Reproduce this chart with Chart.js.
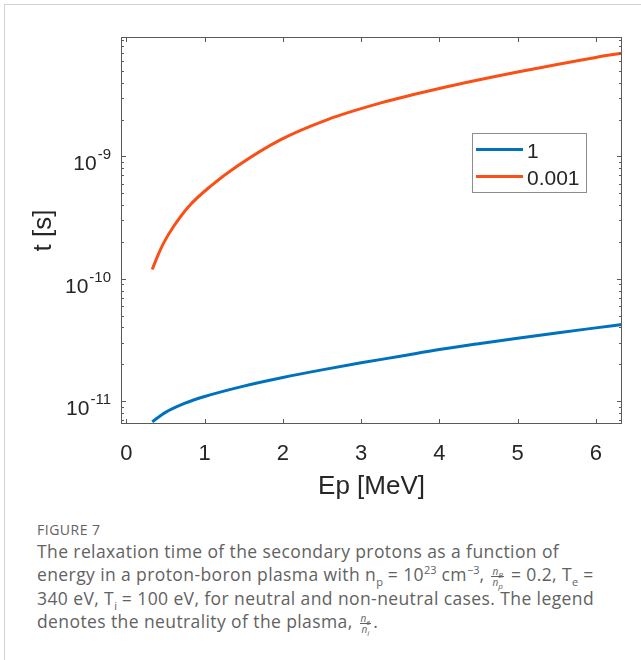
<!DOCTYPE html>
<html>
<head>
<meta charset="utf-8">
<script src="https://cdn.jsdelivr.net/npm/chart.js@4.4.1/dist/chart.umd.min.js"></script>
<style>
  html, body { margin: 0; padding: 0; background: #fff; }
  body { width: 641px; height: 660px; position: relative; overflow: hidden; }
  .frame { position: absolute; left: 4px; top: 4px; width: 700px; height: 700px; border: 1px solid #d2d2d2; }
  #plot { position: absolute; left: 0; top: 0; }
  .caption { position: absolute; left: 37px; top: 520px; width: 600px; font-family: "Open Sans", sans-serif; color: #626262; }
  .caption .fig { font-size: 14px; letter-spacing: 0.5px; margin-bottom: 1px; }
  .caption .txt { font-size: 17.5px; letter-spacing: 0.4px; line-height: 23px; white-space: nowrap; }
  .caption sub, .caption sup { font-size: 11px; line-height: 0; letter-spacing: 0; }
  .frac { display: inline-block; vertical-align: middle; text-align: center; font-size: 10px; line-height: 10px; font-style: italic; margin: 0 2px; letter-spacing: 0; }
  .frac span { display: block; }
  .frac .num { border-bottom: 1px solid #626262; padding: 0 1px; }
  .frac sub { font-size: 8px; }
</style>
</head>
<body>
<div class="frame"></div>
<canvas id="plot" width="641" height="510"></canvas>
<div class="caption">
  <div class="fig">FIGURE 7</div>
  <div class="txt">
    The relaxation time of the secondary protons as a function of<br>
    energy in a proton-boron plasma with n<sub>p</sub> = 10<sup>23</sup> cm<sup>−3</sup>, <span class="frac"><span class="num">n<sub>B</sub></span><span>n<sub>p</sub></span></span> = 0.2, T<sub>e</sub> =<br>
    340 eV, T<sub>i</sub> = 100 eV, for neutral and non-neutral cases. The legend<br>
    denotes the neutrality of the plasma, <span class="frac"><span class="num">n<sub>e</sub></span><span>n<sub>i</sub></span></span>.
  </div>
</div>
<script>
// proton energy [MeV] and relaxation time [s] for ne/ni = 1
const eNeutral = [0.33, 0.5, 0.75, 1, 1.5, 2, 2.5, 3, 3.5, 4, 4.5, 5, 5.5, 6, 6.335];
const tNeutral = [6.79e-12, 8.09e-12, 9.62e-12, 1.091e-11, 1.327e-11, 1.56e-11, 1.8e-11, 2.056e-11,
                  2.328e-11, 2.642e-11, 2.95e-11, 3.27e-11, 3.61e-11, 3.97e-11, 4.23e-11];
// proton energy [MeV] and relaxation time [s] for ne/ni = 0.001
const eNonNeutral = [0.33, 0.4, 0.477, 0.605, 0.797, 1.073, 1.414, 1.967, 2.563, 3.243, 4, 5, 6, 6.335];
const tNonNeutral = [1.191e-10, 1.542e-10, 1.968e-10, 2.69e-10, 3.908e-10, 5.7e-10, 8.32e-10,
                     1.368e-9, 1.995e-9, 2.729e-9, 3.597e-9, 4.898e-9, 6.457e-9, 6.982e-9];
const seriesLabels = ['1', '0.001'];
const seriesColors = ['#0072BD', '#FA4F16'];
const xTicks = [0, 1, 2, 3, 4, 5, 6];
const yDecades = [-11, -10, -9];

const toPoints = (xs, ys) => xs.map((e, i) => ({ x: e, y: ys[i] }));

const AXIS = '#5a5a5a';
const FONT = '"Liberation Sans", Arial, sans-serif';

// box, inward ticks, labels and legend, all placed through the chart scales
const matlabAxes = {
  id: 'matlabAxes',
  afterDatasetsDraw(chart) {
    const { ctx, chartArea: a, scales: { x, y } } = chart;
    ctx.save();
    ctx.strokeStyle = AXIS;
    ctx.lineWidth = 1;
    ctx.strokeRect(a.left + 0.5, a.top + 0.5, a.right - a.left - 1, a.bottom - a.top - 1);

    ctx.beginPath();
    xTicks.forEach(v => {
      const px = Math.round(x.getPixelForValue(v)) + 0.5;
      ctx.moveTo(px, a.bottom); ctx.lineTo(px, a.bottom - 5);
      ctx.moveTo(px, a.top); ctx.lineTo(px, a.top + 5);
    });
    const yMin = y.min, yMax = y.max;
    for (let d = -12; d <= -8; d++) {
      for (let m = 1; m <= 9; m++) {
        const v = m * Math.pow(10, d);
        if (v < yMin || v > yMax) continue;
        const py = Math.round(y.getPixelForValue(v)) + 0.5;
        const len = m === 1 ? 5 : 3;
        ctx.moveTo(a.left, py); ctx.lineTo(a.left + len, py);
        ctx.moveTo(a.right, py); ctx.lineTo(a.right - len, py);
      }
    }
    ctx.stroke();

    // x tick labels
    ctx.fillStyle = '#262626';
    ctx.font = '22px ' + FONT;
    ctx.textAlign = 'center';
    ctx.textBaseline = 'alphabetic';
    xTicks.forEach(v => ctx.fillText(String(v), x.getPixelForValue(v), a.bottom + 36));

    // y tick labels as 10^n
    yDecades.forEach(d => {
      const py = y.getPixelForValue(Math.pow(10, d));
      const exp = String(d);
      ctx.font = '15px ' + FONT;
      const we = ctx.measureText(exp).width;
      ctx.textAlign = 'left';
      ctx.fillText(exp, 111 - we, py + 3);
      ctx.font = '21px ' + FONT;
      ctx.textAlign = 'right';
      ctx.fillText('10', 111 - we - 1, py + 14);
    });

    // axis titles
    ctx.font = '26px ' + FONT;
    ctx.textAlign = 'center';
    ctx.fillText('Ep [MeV]', (a.left + a.right) / 2, a.bottom + 70);
    ctx.save();
    ctx.translate(51, (a.top + a.bottom) / 2);
    ctx.rotate(-Math.PI / 2);
    ctx.fillText('t [s]', 0, 0);
    ctx.restore();

    // legend
    const lx = 472, ly = 133, lw = 114, lh = 59;
    ctx.fillStyle = '#fff';
    ctx.fillRect(lx, ly, lw, lh);
    ctx.strokeStyle = '#8c8c8c';
    ctx.strokeRect(lx + 0.5, ly + 0.5, lw, lh);
    ctx.font = '21px ' + FONT;
    ctx.textAlign = 'left';
    chart.data.datasets.forEach((ds, i) => {
      const yy = ly + 16.5 + i * 27;
      ctx.strokeStyle = ds.borderColor;
      ctx.lineWidth = 3;
      ctx.beginPath();
      ctx.moveTo(lx + 4, yy); ctx.lineTo(lx + 51, yy);
      ctx.stroke();
      ctx.fillStyle = '#262626';
      ctx.fillText(ds.label, lx + 55, yy + 8);
    });
    ctx.restore();
  }
};

new Chart(document.getElementById('plot'), {
  type: 'scatter',
  data: {
    datasets: [
      { label: seriesLabels[0], data: toPoints(eNeutral, tNeutral), borderColor: seriesColors[0] },
      { label: seriesLabels[1], data: toPoints(eNonNeutral, tNonNeutral), borderColor: seriesColors[1] }
    ].map(ds => Object.assign(ds, {
      showLine: true, pointRadius: 0, borderWidth: 3, cubicInterpolationMode: 'monotone'
    }))
  },
  options: {
    responsive: false,
    devicePixelRatio: 1,
    animation: false,
    layout: { padding: { left: 121, top: 37, right: 19, bottom: 86 } },
    plugins: { legend: { display: false }, tooltip: { enabled: false } },
    scales: {
      x: { type: 'linear', min: -0.069, max: 6.335, display: false },
      y: { type: 'logarithmic', min: 6.5e-12, max: 9.48e-9, display: false }
    }
  },
  plugins: [matlabAxes]
});
</script>
</body>
</html>
